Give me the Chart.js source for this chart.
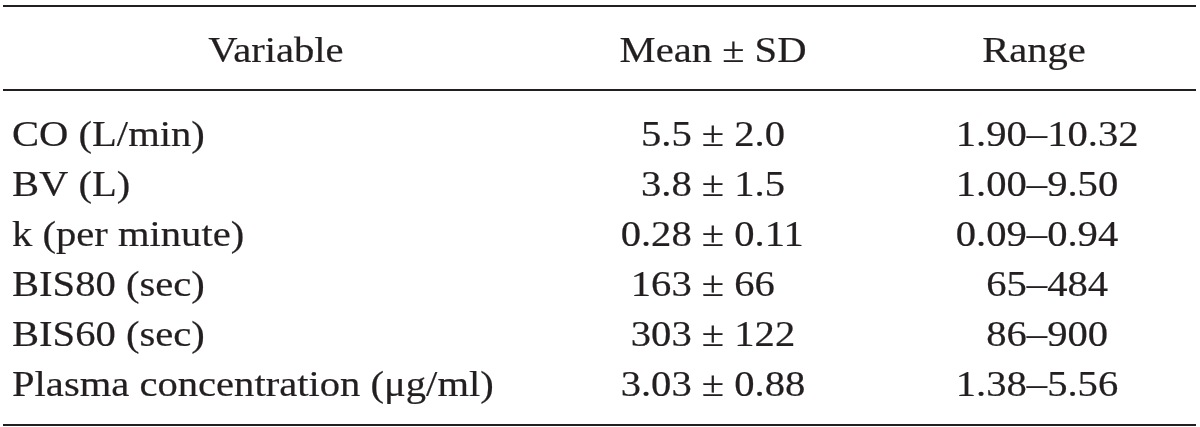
<!DOCTYPE html>
<html>
<head>
<meta charset="utf-8">
<script src="https://cdn.jsdelivr.net/npm/chart.js@4"></script>
<style>
  body { margin: 0; background: #fff; }
  #tbl { display: block; }
</style>
</head>
<body>
<canvas id="tbl" width="1200" height="427"></canvas>
<script>
const headers = ['Variable', 'Mean ± SD', 'Range'];
const variables = ['CO (L/min)', 'BV (L)', 'k (per minute)', 'BIS80 (sec)', 'BIS60 (sec)', 'Plasma concentration (μg/ml)'];
const means = ['5.5', '3.8', '0.28', '163', '303', '3.03'];
const sds = ['2.0', '1.5', '0.11', '66', '122', '0.88'];
const rangeLow = ['1.90', '1.00', '0.09', '65', '86', '1.38'];
const rangeHigh = ['10.32', '9.50', '0.94', '484', '900', '5.56'];

// table layout in scale units (x = pixels across, y = row index)
const rules = [-2.8, -1.12, 5.58];
const headerRow = -1.68;
const colVar = 12, colPm = 713, colDash = 1037, colVarHead = 276, colRangeHead = 1034;
const ink = '#231f20';
const stretch = 1.16;
const font = '35px "Liberation Serif"';

const ruleSets = rules.map(r => ({
  type: 'line',
  data: [{ x: 3, y: r }, { x: 1196, y: r }],
  borderColor: ink,
  borderWidth: 2,
  pointRadius: 0
}));

const tableText = {
  id: 'tableText',
  afterDatasetsDraw(chart) {
    const ctx = chart.ctx;
    const xs = chart.scales.x, ys = chart.scales.y;
    ctx.save();
    ctx.font = font;
    ctx.fillStyle = ink;
    ctx.strokeStyle = ink;
    ctx.lineWidth = 0.2;
    ctx.textBaseline = 'alphabetic';
    const w = s => ctx.measureText(s).width * stretch;
    const put = (s, px, py) => {
      ctx.save();
      ctx.translate(px, py);
      ctx.scale(stretch, 1);
      ctx.fillText(s, 0, 0);
      ctx.strokeText(s, 0, 0);
      ctx.restore();
    };
    const hy = ys.getPixelForValue(headerRow);
    put(headers[0], xs.getPixelForValue(colVarHead) - w(headers[0]) / 2, hy);
    put(headers[1], xs.getPixelForValue(colPm) - w(headers[1]) / 2, hy);
    put(headers[2], xs.getPixelForValue(colRangeHead) - w(headers[2]) / 2, hy);

    variables.forEach((v, i) => {
      const py = ys.getPixelForValue(i);
      put(v, xs.getPixelForValue(colVar), py);
      const ms = means[i] + ' ± ' + sds[i];
      put(ms, xs.getPixelForValue(colPm) - w(means[i] + ' ') - w('±') / 2, py);
      const rs = rangeLow[i] + '–' + rangeHigh[i];
      put(rs, xs.getPixelForValue(colDash) - w(rangeLow[i]) - w('–') / 2, py);
    });
    ctx.restore();
  }
};

new Chart(document.getElementById('tbl'), {
  type: 'scatter',
  data: { datasets: ruleSets },
  options: {
    responsive: false,
    animation: false,
    layout: { padding: 0 },
    plugins: { legend: { display: false }, tooltip: { enabled: false } },
    scales: {
      x: { type: 'linear', min: 0, max: 1200, display: false },
      y: { type: 'linear', min: -2.92, max: 5.62, reverse: true, display: false }
    }
  },
  plugins: [tableText]
});
</script>
</body>
</html>
